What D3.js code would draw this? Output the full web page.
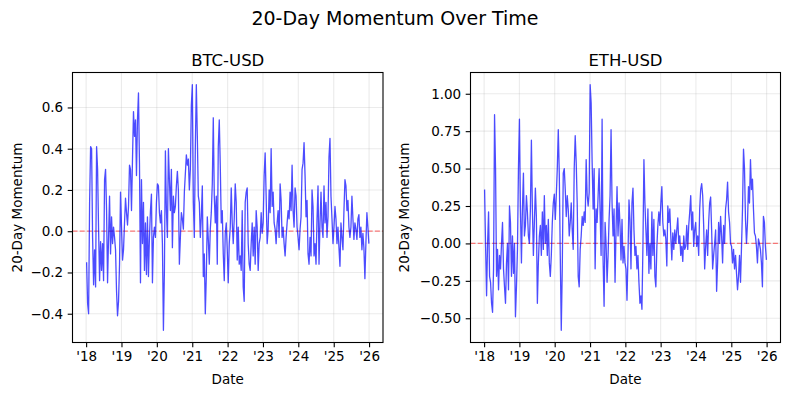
<!DOCTYPE html>
<html>
<head>
<meta charset="utf-8">
<script src="https://cdn.jsdelivr.net/npm/d3@7"></script>
<style>
  body { margin: 0; background: #fff; }
  svg { font-family: "DejaVu Sans", sans-serif; }
</style>
</head>
<body>
<div class="chart"></div>
<script>
// samples are evenly spaced between these two dates
const sampleStart = '2018-01-06';
const sampleEnd = '2025-12-30';

const btcMomentum = [
  -0.15, -0.35, -0.40, 0.14, 0.41, 0.40, -0.03, -0.26, -0.09, -0.27,
  0.41, 0.30, 0.01, -0.24, -0.05, -0.19, -0.06, -0.24, 0.25, 0.30,
  0.10, -0.25, -0.03, 0.17, -0.11, 0.07, -0.06, 0.02, -0.03, -0.09,
  -0.29, -0.41, -0.34, -0.16, 0.19, 0.02, -0.14, -0.09, 0.04, 0.16,
  0.09, 0.03, 0.12, 0.32, 0.30, 0.10, 0.35, 0.58, 0.46, 0.54,
  0.27, 0.54, 0.67, 0.33, -0.25, 0.25, -0.06, 0.14, -0.19, 0.04,
  -0.21, 0.07, -0.22, -0.03, 0.10, 0.18, -0.25, -0.03, 0.02, -0.03,
  0.14, 0.23, 0.22, 0.09, 0.04, 0.10, -0.06, -0.48, -0.19, 0.39,
  0.10, -0.03, 0.40, 0.25, 0.10, 0.30, -0.08, 0.17, 0.09, 0.12,
  0.22, 0.29, 0.20, -0.16,
  -0.03, 0.09, 0.06, 0.01, 0.19, 0.28, 0.37, 0.32, 0.35, 0.20,
  0.30, 0.61, 0.71, 0.14, -0.03, 0.41, 0.71, 0.46, 0.17, 0.14,
  -0.03, 0.07, 0.22, -0.22, -0.11, -0.40, -0.22, 0.07, -0.04, -0.16,
  0.01, 0.09, 0.23, 0.55, 0.17, 0.04, 0.17, -0.16, 0.41, 0.54,
  0.32, 0.04, 0.10, -0.11, -0.24, -0.01, 0.04, -0.09, -0.25, -0.06,
  0.02, 0.21, 0.04, -0.06, 0.06, 0.23, 0.14, -0.14, 0.02, -0.16,
  -0.12, -0.19, 0.10, -0.27, -0.34, 0.14, 0.19, 0.21, -0.06, -0.16,
  -0.19, -0.06, 0.04, -0.12, 0.02, -0.16, 0.10, 0.02, -0.19, -0.06,
  -0.03, 0.09, -0.01, 0.04, 0.27, 0.38, 0.17, -0.06, 0.01, 0.20,
  0.09, 0.40, 0.12, 0.19, 0.04,
  0.01, -0.06, 0.04, 0.10, -0.03, 0.23, 0.15, -0.03, 0.02, -0.06,
  -0.12, -0.03, 0.04, 0.10, 0.06, 0.19, 0.10, 0.32, 0.10, 0.02,
  0.21, 0.17, 0.02, -0.03, -0.09, 0.01, 0.07, 0.30, 0.33, 0.43,
  0.27, 0.07, 0.15, -0.11, -0.16, -0.03, -0.12, 0.20, 0.12, -0.12,
  -0.06, -0.16, 0.06, 0.22, -0.16, 0.04, 0.19, 0.02, -0.03, 0.22,
  0.04, 0.14, -0.03, 0.07, 0.36, 0.45, 0.17, 0.06, -0.06, 0.02,
  0.12, 0.06, -0.06, 0.02, -0.08, -0.17, 0.04, -0.03, -0.09, 0.10,
  0.25, 0.22, 0.10, 0.15, 0.02, -0.03, 0.02, 0.17, 0.06, -0.04,
  0.04, 0.01, -0.04, 0.06, 0.08, -0.03, 0.02, -0.09, -0.01, -0.08,
  -0.23, -0.06, 0.09, 0.02, -0.06
];

const ethMomentum = [
  0.36, -0.02, -0.35, 0.00, 0.21, -0.22, -0.26, -0.40, -0.46, -0.17,
  0.86, 0.50, -0.22, -0.04, -0.31, -0.08, -0.17, 0.00, 0.14, -0.17,
  -0.29, -0.40, -0.13, 0.00, -0.31, 0.25, 0.14, -0.22, 0.05, -0.20,
  0.00, -0.49, -0.29, -0.04, 0.50, 0.83, 0.23, -0.13, 0.23, 0.47,
  0.05, 0.12, 0.32, 0.21, 0.05, 0.00, 0.23, 0.69, 0.23, -0.08,
  0.14, 0.37, 0.18, -0.40, -0.13, 0.05, 0.12, -0.08, 0.21, -0.04,
  0.32, 0.00, 0.12, -0.08, 0.16, -0.13, -0.22, -0.08, 0.14, 0.27,
  0.33, 0.16, 0.32, 0.50, 0.76, 0.47, -0.08, -0.58, -0.17, 0.47,
  0.50, 0.36, 0.18, 0.32, 0.23, 0.05, 0.14, 0.27,
  0.09, -0.04, 0.50, 0.72, 0.54, 0.27, -0.22, -0.29, -0.04, 0.05,
  0.18, 0.12, 0.21, 0.14, 0.56, 0.32, 0.25, 0.34, 1.06, 0.94,
  0.54, 0.23, 0.50, -0.17, 0.23, 0.14, 0.32, 0.50, 0.21, -0.08,
  0.83, -0.11, -0.42, 0.14, 0.00, -0.26, -0.08, 0.16, 0.32, 0.76,
  0.27, 0.05, 0.23, -0.26, 0.09, 0.38, 0.05, 0.27, 0.12, -0.11,
  0.16, -0.13, -0.02, -0.13, -0.17, -0.38, -0.08, 0.29, 0.16, -0.17,
  0.27, 0.37, 0.09, -0.08, -0.02, -0.17, -0.08, -0.26, -0.40, -0.35,
  -0.44, -0.02, 0.56, 0.27, 0.09, -0.08, 0.23, -0.20, 0.00, -0.17,
  0.21, -0.08, 0.16, -0.22, -0.29, -0.02, 0.12, 0.21, 0.12, 0.27,
  0.38, 0.14, 0.05, 0.09, 0.03,
  -0.15, 0.25, 0.14, 0.23, 0.05, -0.11, 0.07, -0.04, 0.09, 0.00,
  0.09, 0.17, 0.00, 0.05, -0.08, -0.02, -0.12, 0.05, -0.04, -0.02,
  0.12, -0.04, 0.12, 0.21, 0.32, 0.09, 0.21, -0.02, 0.09, 0.14,
  -0.02, 0.05, -0.08, 0.23, 0.36, 0.40, 0.32, 0.12, -0.17, -0.02,
  0.09, -0.08, 0.14, 0.27, 0.31, 0.09, -0.17, -0.08, 0.00, 0.09,
  -0.32, -0.13, 0.14, 0.00, 0.18, 0.05, -0.13, 0.12, 0.00, 0.23,
  0.29, 0.41, 0.21, 0.14, 0.00, -0.02, -0.13, -0.04, -0.17, -0.08,
  -0.20, -0.31, -0.22, -0.08, -0.26, -0.02, 0.23, 0.63, 0.50, 0.16,
  0.00, 0.14, 0.38, 0.27, 0.56, 0.36, 0.43, 0.23, 0.07, 0.05,
  -0.02, -0.13, 0.03, 0.00, -0.04, -0.13, -0.29, 0.18, 0.14, -0.02, -0.11
];

const yearTicks = ['2018-01-01', '2019-01-01', '2020-01-01', '2021-01-01', '2022-01-01',
  '2023-01-01', '2024-01-01', '2025-01-01', '2026-01-01'];
const yearLabels = ["'18", "'19", "'20", "'21", "'22", "'23", "'24", "'25", "'26"];
const btcTicks = [-0.4, -0.2, 0, 0.2, 0.4, 0.6];
const ethTicks = [-0.5, -0.25, 0, 0.25, 0.5, 0.75, 1.0];

const parse = d3.timeParse('%Y-%m-%d');
const tickDates = yearTicks.map(parse);

const svg = d3.select('.chart').append('svg')
  .attr('width', 790)
  .attr('height', 396);

svg.append('text')
  .attr('x', 395)
  .attr('y', 25)
  .attr('text-anchor', 'middle')
  .attr('font-size', 19)
  .text('20-Day Momentum Over Time');

function drawPanel(values, yTicks, fmt, title, left, right, labelX) {
  const top = 72.5, bottom = 342.5;
  const t0 = +parse(sampleStart), t1 = +parse(sampleEnd);
  const data = values.map((v, i) => ({
    date: new Date(t0 + (t1 - t0) * i / (values.length - 1)),
    value: v
  }));

  // matplotlib style 5% margins
  const xExt = d3.extent(data, d => d.date);
  const xPad = (xExt[1] - xExt[0]) * 0.05;
  const xScale = d3.scaleTime()
    .domain([new Date(+xExt[0] - xPad), new Date(+xExt[1] + xPad)])
    .range([left, right]);

  const yExt = d3.extent(data, d => d.value);
  const yPad = (yExt[1] - yExt[0]) * 0.05;
  const yScale = d3.scaleLinear()
    .domain([yExt[0] - yPad, yExt[1] + yPad])
    .range([bottom, top]);

  const g = svg.append('g');

  // grid
  g.selectAll('.vgrid')
    .data(tickDates)
    .enter()
    .append('line')
    .attr('x1', d => xScale(d)).attr('x2', d => xScale(d))
    .attr('y1', top).attr('y2', bottom)
    .attr('stroke', '#b0b0b0').attr('stroke-opacity', 0.25).attr('stroke-width', 1.1);

  g.selectAll('.hgrid')
    .data(yTicks)
    .enter()
    .append('line')
    .attr('x1', left).attr('x2', right)
    .attr('y1', d => yScale(d)).attr('y2', d => yScale(d))
    .attr('stroke', '#b0b0b0').attr('stroke-opacity', 0.25).attr('stroke-width', 1.1);

  // zero line
  g.append('line')
    .attr('x1', left).attr('x2', right)
    .attr('y1', yScale(0)).attr('y2', yScale(0))
    .attr('stroke', 'red').attr('stroke-opacity', 0.5)
    .attr('stroke-width', 1.3).attr('stroke-dasharray', '5,2.2');

  const line = d3.line()
    .x(d => xScale(d.date))
    .y(d => yScale(d.value));

  g.append('path')
    .datum(data)
    .attr('d', line)
    .attr('fill', 'none')
    .attr('stroke', 'blue')
    .attr('stroke-opacity', 0.7)
    .attr('stroke-width', 1.3)
    .attr('stroke-linejoin', 'round');

  const xAxis = d3.axisBottom(xScale)
    .tickValues(tickDates)
    .tickFormat((d, i) => yearLabels[i])
    .tickSize(4.8)
    .tickPadding(4.5);

  const yAxis = d3.axisLeft(yScale)
    .tickValues(yTicks)
    .tickFormat(d3.format(fmt))
    .tickSize(4.8)
    .tickPadding(4.5);

  g.append('g')
    .attr('transform', 'translate(0,' + bottom + ')')
    .call(xAxis);

  g.append('g')
    .attr('transform', 'translate(' + left + ',0)')
    .call(yAxis);

  g.selectAll('.domain').remove();
  g.selectAll('.tick line').attr('stroke', '#000').attr('stroke-width', 1.1);
  g.selectAll('.tick text')
    .attr('fill', '#000')
    .attr('font-size', 13.5)
    .attr('font-family', '"DejaVu Sans", sans-serif');

  // frame
  g.append('rect')
    .attr('x', left).attr('y', top)
    .attr('width', right - left).attr('height', bottom - top)
    .attr('fill', 'none').attr('stroke', '#000').attr('stroke-width', 1.1);

  g.append('text')
    .attr('x', (left + right) / 2)
    .attr('y', 66)
    .attr('text-anchor', 'middle')
    .attr('font-size', 16.5)
    .text(title);

  g.append('text')
    .attr('x', (left + right) / 2)
    .attr('y', 384)
    .attr('text-anchor', 'middle')
    .attr('font-size', 13.5)
    .text('Date');

  g.append('text')
    .attr('transform', 'translate(' + labelX + ',' + (top + bottom) / 2 + ') rotate(-90)')
    .attr('text-anchor', 'middle')
    .attr('font-size', 13.5)
    .text('20-Day Momentum');
}

drawPanel(btcMomentum, btcTicks, '.1f', 'BTC-USD', 72.5, 383, 22);
drawPanel(ethMomentum, ethTicks, '.2f', 'ETH-USD', 470.5, 780.5, 409);
</script>
</body>
</html>
